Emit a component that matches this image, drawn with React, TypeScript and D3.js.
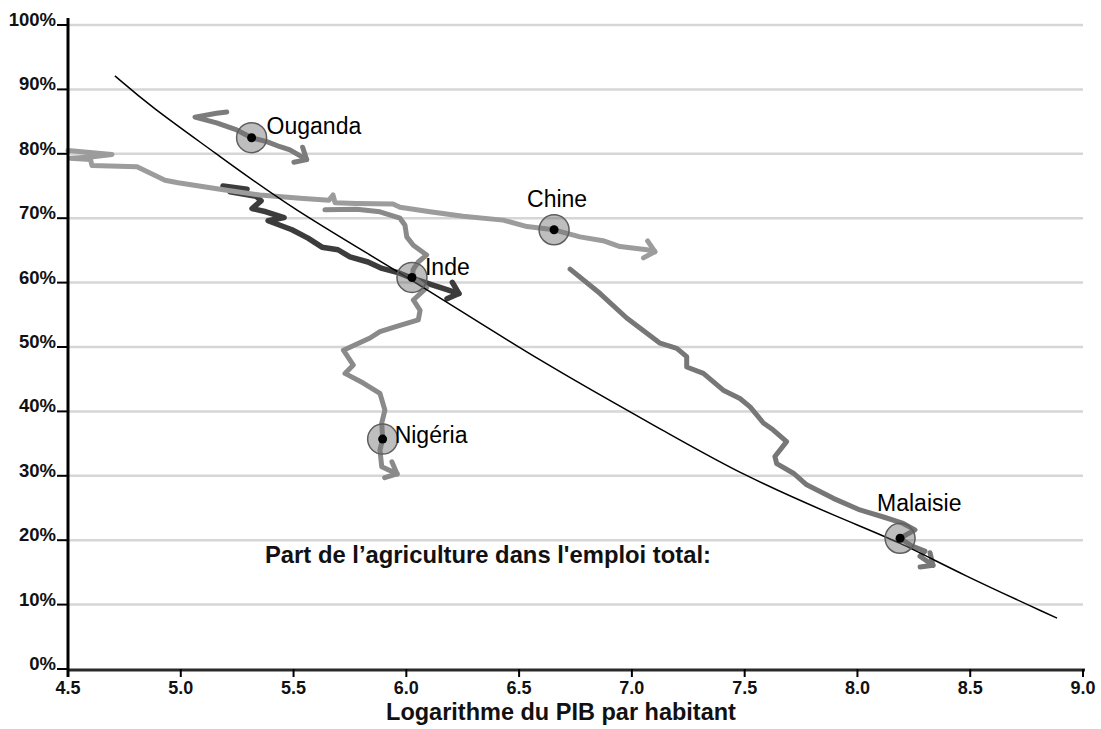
import React from 'react';
import * as d3 from 'd3';

type P = [number, number];

// Axis ticks
const xTickValues: number[] = [4.5, 5.0, 5.5, 6.0, 6.5, 7.0, 7.5, 8.0, 8.5, 9.0];
const yTickValues: number[] = [0, 10, 20, 30, 40, 50, 60, 70, 80, 90, 100];

// Trajectories: [log GDP per capita, agriculture share of employment %]
const ougandaPath: P[] = [
  [5.204, 86.5], [5.159, 86.3], [5.063, 85.7], [5.159, 84.8], [5.248, 83.7],
  [5.314, 82.5], [5.381, 81.9], [5.44, 81.1], [5.484, 80.6], [5.558, 79.1],
];
const chinePath: P[] = [
  [4.5, 80.5], [4.695, 79.9], [4.6, 79.5], [4.51, 79.3], [4.6, 79.1], [4.606, 78.2], [4.806, 78.0],
  [4.93, 75.9], [4.988, 75.5], [5.174, 74.5], [5.351, 73.6], [5.529, 73.1], [5.657, 72.8],
  [5.675, 73.6], [5.684, 72.4], [5.777, 72.3], [5.941, 72.2], [5.972, 71.7], [6.105, 71.0],
  [6.251, 70.3], [6.429, 69.7], [6.535, 68.7], [6.655, 68.2], [6.77, 67.1], [6.872, 66.5],
  [6.947, 65.6], [7.067, 65.1], [7.102, 64.8],
];
const indePath: P[] = [
  [5.187, 75.0], [5.294, 74.5], [5.218, 74.1], [5.334, 73.4], [5.356, 72.7], [5.316, 71.5],
  [5.378, 71.0], [5.458, 70.1], [5.387, 69.6], [5.493, 68.2], [5.564, 66.9], [5.626, 65.5],
  [5.697, 65.1], [5.75, 64.0], [5.83, 63.2], [5.892, 62.2], [5.959, 61.6], [6.025, 60.7],
  [6.118, 59.6], [6.18, 58.9], [6.233, 58.3],
];
const nigeriaPath: P[] = [
  [5.639, 71.3], [5.78, 71.4], [5.883, 71.0], [5.972, 70.0], [5.994, 68.9], [6.002, 67.1],
  [6.031, 65.8], [6.09, 64.3], [6.053, 63.2], [6.03, 62.0], [6.028, 60.8], [6.09, 59.2],
  [6.031, 57.3], [6.061, 55.7], [6.053, 54.2], [5.957, 53.2], [5.883, 52.4], [5.839, 51.4],
  [5.721, 49.5], [5.765, 47.2], [5.728, 45.9], [5.809, 44.4], [5.883, 42.8], [5.905, 40.2],
  [5.891, 38.2], [5.895, 35.7], [5.883, 34.0], [5.891, 31.4], [5.959, 30.3],
];
const malaisiePath: P[] = [
  [6.726, 62.1], [6.859, 58.3], [6.977, 54.5], [7.125, 50.6], [7.199, 49.8], [7.243, 48.5],
  [7.243, 46.9], [7.317, 45.9], [7.405, 43.3], [7.479, 42.0], [7.524, 40.7], [7.583, 38.2],
  [7.627, 37.1], [7.686, 35.3], [7.634, 33.0], [7.642, 31.9], [7.716, 30.4], [7.775, 28.6],
  [7.893, 26.5], [8.011, 24.7], [8.115, 23.6], [8.203, 22.6], [8.255, 21.6], [8.189, 20.3],
  [8.242, 19.1], [8.299, 18.3], [8.277, 17.5], [8.335, 16.1],
];

// Highlighted positions
const markerOuganda: P = [5.314, 82.5];
const markerInde: P = [6.025, 60.8];
const markerNigeria: P = [5.895, 35.7];
const markerChine: P = [6.655, 68.2];
const markerMalaisie: P = [8.189, 20.3];

// Fitted trend curve
const trendPoints: P[] = [
  [4.708, 92.1], [4.864, 87.4], [5.143, 80.4], [5.484, 71.6], [6.016, 60.7], [6.593, 47.7],
  [7.182, 36.2], [7.479, 30.3], [7.923, 23.4], [8.189, 19.7], [8.455, 14.8], [8.885, 7.9],
];

const countryNames: string[] = ['Ouganda', 'Chine', 'Inde', 'Nigéria', 'Malaisie'];
const annotationText = 'Part de l\u2019agriculture dans l\'emploi total:';
const xAxisTitle = 'Logarithme du PIB par habitant';

const FONT = '"Liberation Sans", Arial, Helvetica, sans-serif';

export default function App() {
  const W = 1101;
  const H = 729;
  const x = d3.scaleLinear().domain([4.5, 9]).range([68, 1083]);
  const y = d3.scaleLinear().domain([0, 100]).range([669, 25]);

  const line = d3.line<P>().x((d) => x(d[0])).y((d) => y(d[1])).curve(d3.curveLinear);
  const trendLine = d3.line<P>().x((d) => x(d[0])).y((d) => y(d[1])).curve(d3.curveBasis);

  const series = [
    { name: countryNames[2], data: indePath, color: '#3c3c3c', width: 5.5, marker: markerInde, lx: 13, ly: -2.5, anchor: 'start' },
    { name: countryNames[1], data: chinePath, color: '#9c9c9c', width: 5, marker: markerChine, lx: 3, ly: -23, anchor: 'middle' },
    { name: countryNames[3], data: nigeriaPath, color: '#8a8a8a', width: 5, marker: markerNigeria, lx: 12, ly: 4, anchor: 'start' },
    { name: countryNames[0], data: ougandaPath, color: '#7c7c7c', width: 5, marker: markerOuganda, lx: 15, ly: -3.5, anchor: 'start' },
    { name: countryNames[4], data: malaisiePath, color: '#777777', width: 5, marker: markerMalaisie, lx: -23, ly: -27.5, anchor: 'start' },
  ];

  const arrowHead = (pts: P[]) => {
    const a = pts[pts.length - 2];
    const b = pts[pts.length - 1];
    const x1 = x(a[0]), y1 = y(a[1]);
    const x2 = x(b[0]), y2 = y(b[1]);
    const th = Math.atan2(y2 - y1, x2 - x1);
    const L = 13;
    const sp = (42 * Math.PI) / 180;
    const w1 = [x2 + L * Math.cos(th + Math.PI - sp), y2 + L * Math.sin(th + Math.PI - sp)];
    const w2 = [x2 + L * Math.cos(th + Math.PI + sp), y2 + L * Math.sin(th + Math.PI + sp)];
    return `M${w1[0]},${w1[1]}L${x2},${y2}L${w2[0]},${w2[1]}`;
  };

  return (
    <svg
      width={W}
      height={H}
      style={{ position: 'absolute', left: 0, top: 0, background: '#fff' }}
      fontFamily={FONT}
    >
      <rect x={0} y={0} width={W} height={H} fill="#fff" />
      {/* gridlines */}
      {yTickValues.filter((v) => v > 0).map((v) => (
        <line key={'g' + v} x1={x(4.5)} x2={x(9)} y1={y(v)} y2={y(v)} stroke="#d6d6d6" strokeWidth={2.5} />
      ))}

      {/* trajectories */}
      {series.map((s) => (
        <g key={s.name} fill="none" stroke={s.color} strokeWidth={s.width} strokeLinejoin="round" strokeLinecap="round">
          <path d={line(s.data) || ''} />
          <path d={arrowHead(s.data)} />
        </g>
      ))}

      {/* trend curve */}
      <path d={trendLine(trendPoints) || ''} fill="none" stroke="#000" strokeWidth={1.5} />

      {/* markers */}
      {series.map((s) => (
        <g key={'m' + s.name}>
          <circle cx={x(s.marker[0])} cy={y(s.marker[1])} r={15} fill="rgba(110,110,110,0.45)" stroke="#5e5e5e" strokeWidth={1.5} />
          <circle cx={x(s.marker[0])} cy={y(s.marker[1])} r={4.5} fill="#000" />
          <text
            x={x(s.marker[0]) + s.lx}
            y={y(s.marker[1]) + s.ly}
            fontSize={23}
            textAnchor={s.anchor as any}
            fill="#000"
          >
            {s.name}
          </text>
        </g>
      ))}

      {/* axes */}
      <line x1={x(4.5)} x2={x(9) + 2} y1={y(0) + 1} y2={y(0) + 1} stroke="#2a2a2a" strokeWidth={3} />
      <line x1={x(4.5)} x2={x(4.5)} y1={18} y2={y(0) + 8} stroke="#000" strokeWidth={3} />
      {yTickValues.map((v) => (
        <g key={'yt' + v}>
          <line x1={x(4.5) - 11} x2={x(4.5)} y1={y(v)} y2={y(v)} stroke="#000" strokeWidth={2} />
          <text x={x(4.5) - 12} y={y(v) + 1} fontSize={18.5} fontWeight="bold" textAnchor="end" fill="#111">
            {v + '%'}
          </text>
        </g>
      ))}
      {xTickValues.map((v) => (
        <g key={'xt' + v}>
          <line x1={x(v)} x2={x(v)} y1={y(0)} y2={y(0) + 8} stroke="#000" strokeWidth={2} />
          <text x={x(v)} y={y(0) + 25} fontSize={18} fontWeight="bold" textAnchor="middle" fill="#111">
            {v.toFixed(1)}
          </text>
        </g>
      ))}

      <text x={561} y={720} fontSize={23.5} fontWeight="bold" textAnchor="middle" fill="#111">
        {xAxisTitle}
      </text>
      <text x={265} y={563} fontSize={23.8} fontWeight="bold" textAnchor="start" fill="#111">
        {annotationText}
      </text>
    </svg>
  );
}
